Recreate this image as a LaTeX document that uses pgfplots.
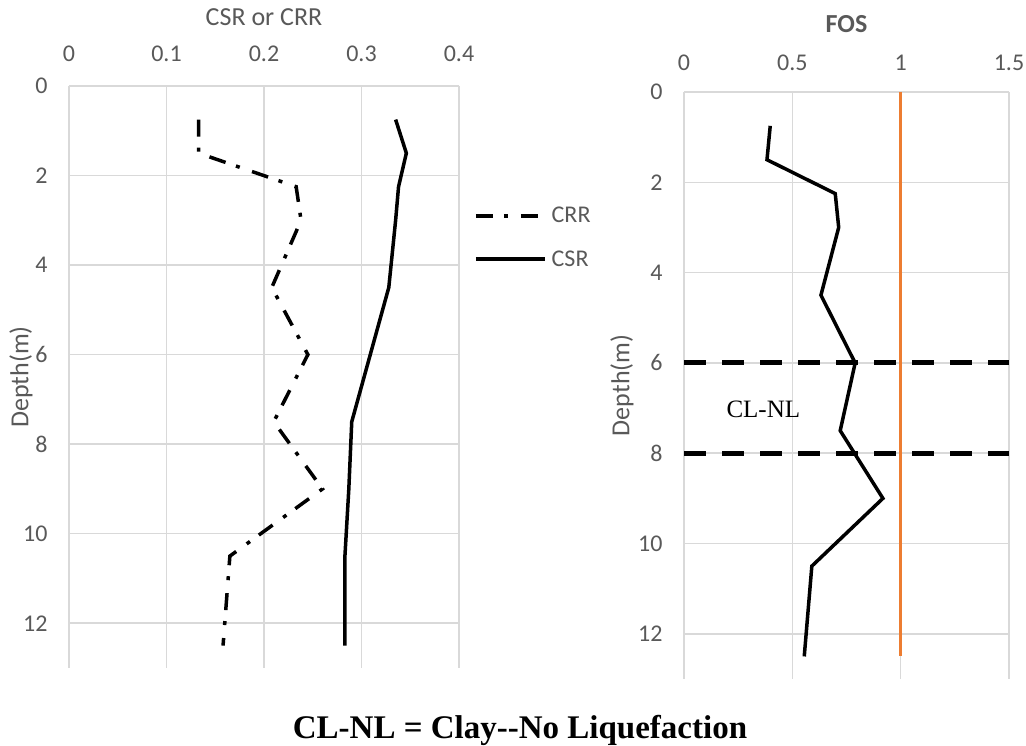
\documentclass[border=0pt]{standalone}
\usepackage{fontspec}
\setmainfont{Carlito}
\newfontfamily\timesfont{Liberation Serif}
\usepackage{pgfplots}
\pgfplotsset{compat=1.18}

\definecolor{gridgray}{HTML}{D9D9D9}
\definecolor{labelgray}{HTML}{595959}
\definecolor{fosorange}{HTML}{ED7D31}

\pgfplotsset{
  depthaxis/.style={
    scale only axis,
    y dir=reverse,
    ymin=0, ymax=13,
    ytick={0,2,4,6,8,10,12},
    axis line style={draw=none},
    major tick length=0pt,
    grid=major,
    major grid style={gridgray, line width=1.5pt},
    xticklabel pos=upper,
    ticklabel style={font=\fontsize{24}{28}\selectfont, text=labelgray},
    xticklabel style={yshift=21pt},
    yticklabel style={xshift=-18pt},
    /pgf/number format/assume math mode=true,
    label style={font=\fontsize{26}{30}\selectfont, text=labelgray},
    clip=false,
  },
}

\begin{document}
\begin{tikzpicture}
\useasboundingbox (0,0) rectangle (1026pt,746pt);

% Cyclic stress ratio and cyclic resistance ratio against depth
\begin{axis}[depthaxis,
  at={(69pt,660pt)}, anchor=north west,
  width=390pt, height=582pt,
  xmin=0, xmax=0.4,
  xtick={0,0.1,0.2,0.3,0.4},
  title={CSR or CRR},
  title style={at={(axis description cs:0.5,1)}, anchor=center, yshift=63pt,
    font=\fontsize{26}{30}\selectfont, text=labelgray},
  ylabel={Depth(m)},
  ylabel style={at={([xshift=-48pt]axis description cs:0,0.5)}, anchor=center},
  legend image code/.code={\draw[#1] (0pt,0pt) -- (69pt,0pt);},
  legend cell align=left,
  legend style={draw=none, fill=none,
    at={(axis description cs:1,1)}, anchor=west,
    xshift=15pt, yshift=-151.5pt,
    font=\fontsize{24}{28}\selectfont, text=labelgray,
    inner sep=0pt, row sep=22pt,
    /tikz/every odd column/.append style={column sep=3pt}},
]
\addplot[black, line width=3.5pt, dash pattern=on 17pt off 11pt on 4pt off 13pt]
  coordinates {(0.133,0.75) (0.133,1.5) (0.233,2.25) (0.238,3) (0.208,4.5)
               (0.245,6) (0.210,7.5) (0.260,9) (0.165,10.5) (0.158,12.5)};
\addlegendentry{CRR}
\addplot[black, line width=3.5pt]
  coordinates {(0.335,0.75) (0.346,1.5) (0.338,2.25) (0.335,3) (0.328,4.5)
               (0.309,6) (0.290,7.5) (0.287,9) (0.283,10.5) (0.283,12.5)};
\addlegendentry{CSR}
\end{axis}

% Factor of safety against depth
\begin{axis}[depthaxis,
  at={(684pt,654pt)}, anchor=north west,
  width=325pt, height=587pt,
  xmin=0, xmax=1.5,
  xtick={0,0.5,1,1.5},
  xticklabel style={yshift=-3pt},
  title={\bfseries FOS},
  title style={at={(axis description cs:0.5,1)}, anchor=center, yshift=62pt,
    font=\fontsize{26}{30}\selectfont, text=labelgray},
  ylabel={Depth(m)},
  ylabel style={at={([xshift=-62pt]axis description cs:0,0.5)}, anchor=center},
]
\addplot[black, line width=3.5pt]
  coordinates {(0.398,0.75) (0.383,1.5) (0.698,2.25) (0.714,3) (0.632,4.5)
               (0.790,6) (0.721,7.5) (0.918,9) (0.590,10.5) (0.555,12.5)};
\addplot[black, line width=5pt, dash pattern=on 22pt off 16pt]
  coordinates {(0,6) (1.5,6)};
\addplot[black, line width=5pt, dash pattern=on 22pt off 16pt]
  coordinates {(0,8) (1.5,8)};
\addplot[fosorange, line width=3.2pt]
  coordinates {(1,0) (1,12.5)};
\node[anchor=base, font=\timesfont\fontsize{25}{28}\selectfont]
  at (axis cs:0.366,7.2) {CL-NL};
\end{axis}

\node[anchor=base, font=\timesfont\bfseries\fontsize{33}{36}\selectfont]
  at (520pt,7pt) {CL-NL = Clay-\kern0pt-No Liquefaction};
\end{tikzpicture}
\end{document}
